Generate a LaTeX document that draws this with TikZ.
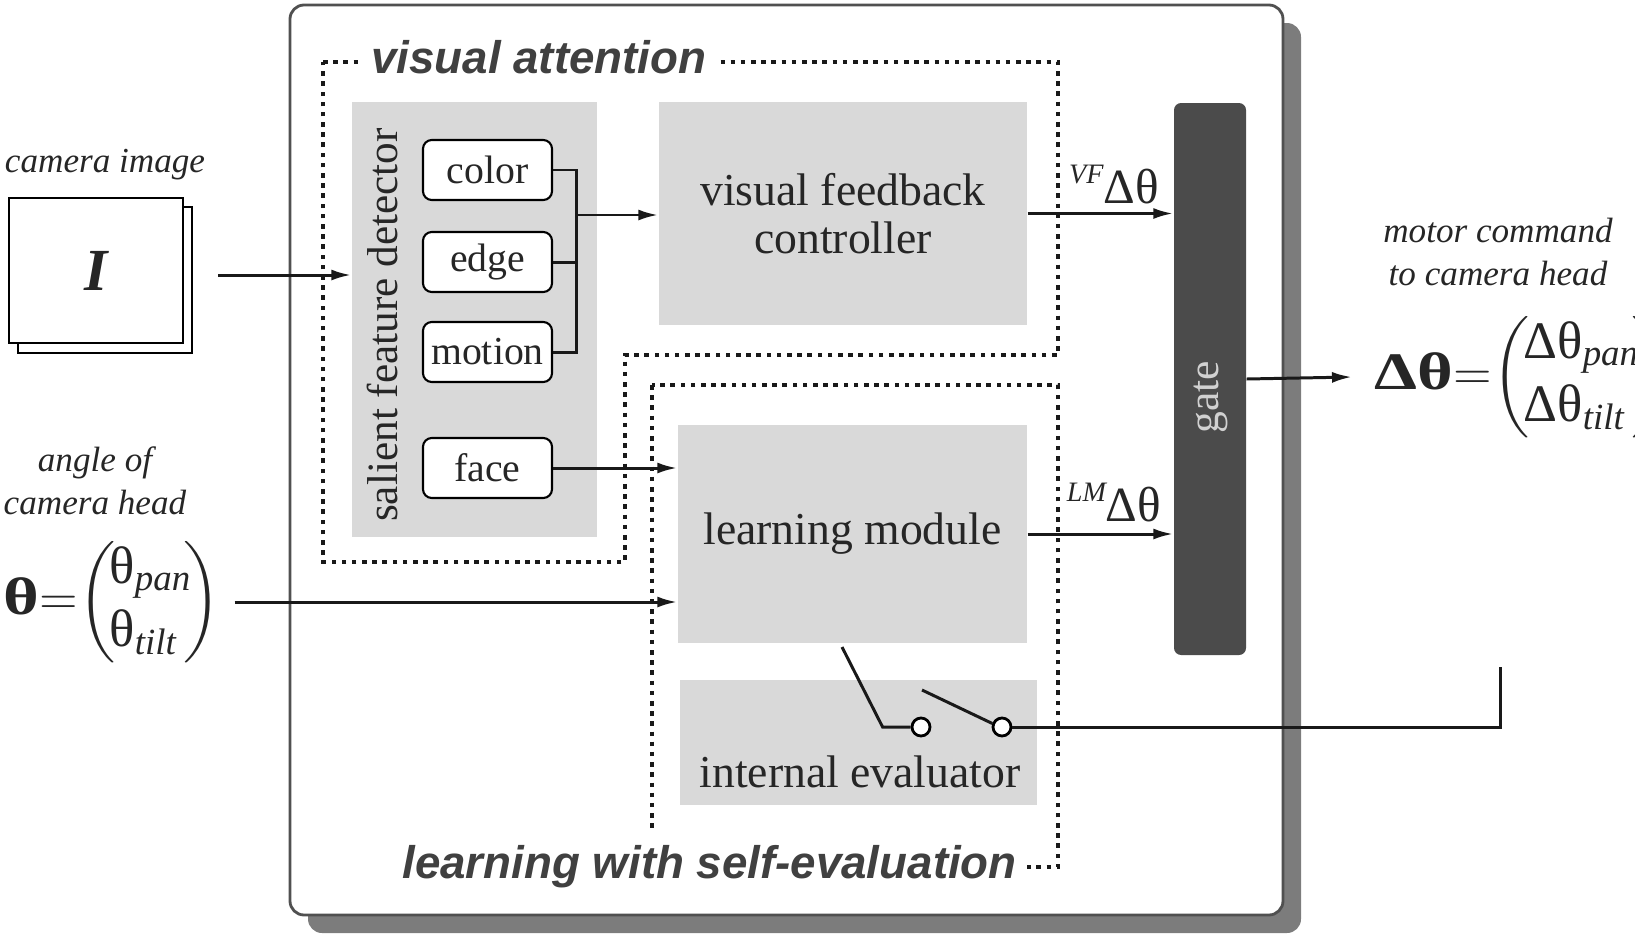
\documentclass[tikz,border=0pt]{standalone}
\usepackage{amsmath}
\usepackage{graphicx}
\usepackage{fontspec}
\setmainfont{Liberation Serif}
\newfontfamily\headfont{Liberation Sans}
\usetikzlibrary{positioning,arrows.meta}
\definecolor{boxgray}{HTML}{D9D9D9}
\definecolor{gatedark}{HTML}{4B4B4B}
\definecolor{framegray}{HTML}{505050}
\definecolor{shadowgray}{HTML}{7C7C7C}
\definecolor{inkgray}{HTML}{262626}
\newcommand{\wideb}[1]{\scalebox{1.3}[1]{\bfseries #1}}
\newcommand{\pre}[1]{\raisebox{5.5pt}{\fontsize{8}{8}\selectfont\itshape #1}}
\newcommand{\colvec}[2]{\mkern-3mu\left(\mkern-2mu\begin{array}{@{}l@{}}#1\\ #2\end{array}\mkern-3mu\right)}

\begin{document}
\begin{tikzpicture}[x=0.1mm, y=-0.1mm, every node/.style={text=inkgray},
    module/.style={fill=boxgray, inner sep=0pt, align=center, font=\fontsize{13}{13.5}\selectfont},
    feat/.style={draw=black, fill=white, rounded corners=2.5pt, line width=0.6pt,
                 minimum width=12.9mm, minimum height=6mm, inner sep=0pt, font=\fontsize{11.3}{13}\selectfont},
    region/.style={draw=black!90, line width=1.3pt, dash pattern=on 1.3pt off 1.6pt},
    regionlbl/.style={fill=white, inner xsep=3pt, text=black!75, font=\headfont\bfseries\itshape\fontsize{13}{15}\selectfont},
    note/.style={align=center, font=\itshape\fontsize{10}{12.4}\selectfont},
    arr/.style={-{Latex[length=2mm,width=1.1mm]}, line width=0.85pt, black!90},
    wire/.style={line width=0.85pt, black!90}]
  \useasboundingbox (0,0) rectangle (1635,937);

  % outer frame with its shadow
  \fill[shadowgray, rounded corners=4pt] (308,23) rectangle (1301,933);
  \draw[framegray, fill=white, line width=0.8pt, rounded corners=4pt] (290,5) rectangle (1283,915);

  % camera image
  \node[draw, fill=white, line width=0.6pt, minimum width=17.4mm, minimum height=14.6mm] (camback) at (105,280) {};
  \node[draw, fill=white, line width=0.6pt, minimum width=17.4mm, minimum height=14.5mm,
        font=\fontsize{17}{17}\selectfont\bfseries\itshape] (cam) at (96,270.5) {I};
  \node[note] (camlbl) at (105,165) {camera image};
  \node[note] (anglelbl) at (95,481) {angle of\\camera head};
  \node[note] (motorlbl) at (1498,252) {motor command\\to camera head};

  % modules
  \node[module, minimum width=24.5mm, minimum height=43.5mm] (sfd) at (474.5,319.5) {};
  \node[rotate=90, font=\fontsize{12.3}{14}\selectfont] (sfdlbl) at (382,325) {salient feature detector};
  \node[feat] (color) at (487.5,170) {color};
  \node[feat] (edge) at (487.5,262) {edge};
  \node[feat] (motion) at (487.5,352) {motion};
  \node[feat] (face) at (487.5,468) {face};
  \node[module, minimum width=36.8mm, minimum height=22.3mm] (vfc) at (843,213.5) {visual feedback\\controller};
  \node[module, minimum width=34.9mm, minimum height=21.8mm] (lm) at (852.5,534) {learning module};
  \node[module, minimum width=35.7mm, minimum height=12.5mm] (ie) at (858.5,742.5) {};
  \node[font=\fontsize{13}{13.5}\selectfont] (ielbl) at (860,772) {internal evaluator};
  \node[fill=gatedark, rounded corners=2pt, minimum width=7.2mm, minimum height=55.2mm, inner sep=0pt] (gate) at (1210,379) {};
  \node[rotate=90, text=white!82!black, font=\fontsize{12.4}{14}\selectfont] (gatelbl) at (1211,397) {gate};

  % dotted regions
  \draw[region] (323,62) -- (1058,62) -- (1058,355) -- (625,355) -- (625,562) -- (323,562) -- cycle;
  \draw[region] (652,385) rectangle (1058,867);
  \node[regionlbl, anchor=base west] (valbl) at (360,73) {visual attention};
  \node[regionlbl, anchor=base east] (lselbl) at (1028,878) {learning with self-evaluation};

  % inputs and outputs
  \node[anchor=west, inner xsep=1.3mm, inner ysep=0pt, font=\fontsize{15}{18}\selectfont] (theta) at (-10,602)
    {$\text{\wideb{θ}}{=}\colvec{\text{θ}_{\textit{pan}}}{\text{θ}_{\textit{tilt}}}$};
  \node[anchor=west, inner xsep=2.2mm, inner ysep=0pt, font=\fontsize{15}{18}\selectfont] (dtheta) at (1352,377)
    {$\text{\wideb{Δθ}}{=}\colvec{\text{Δθ}_{\textit{pan}}}{\text{Δθ}_{\textit{tilt}}}$};
  \node[anchor=base, font=\fontsize{14}{16}\selectfont] (vflbl) at (1114,203) {\pre{VF}Δθ};
  \node[anchor=base, font=\fontsize{14}{16}\selectfont] (lmlbl) at (1114,521) {\pre{LM}Δθ};

  % switch
  \node[circle, draw=black, fill=white, line width=0.8pt, minimum size=1.8mm, inner sep=0pt] (sw1) at (921,727) {};
  \node[circle, draw=black, fill=white, line width=0.8pt, minimum size=1.8mm, inner sep=0pt] (sw2) at (1002,727) {};
  \coordinate (lmtap) at (842,647);
  \coordinate (ietap) at (922,690);
  \coordinate (fb) at (1500,667);
  \coordinate (camout) at (218,275);
  \coordinate (bus) at (576,215);

  % connections
  \draw[arr] (camout) -- (sfd.west |- camout);
  \draw[wire] (color.east) -| (bus |- motion.east) -- (motion.east);
  \draw[wire] (edge.east) -- (bus |- edge.east);
  \draw[arr] (bus) -- (vfc.west |- bus);
  \draw[arr] (face.east) -- (lm.west |- face.east);
  \draw[arr] (theta.east) -- (lm.west |- theta.east);
  \draw[arr] (vfc.east) -- (gate.west |- vfc.east);
  \draw[arr] (lm.east) -- (gate.west |- lm.east);
  \draw[arr] (gate.east) -- (dtheta.west);
  \draw[wire] (lmtap) -- ([xshift=-2.8mm]sw1.west) -- (sw1.west);
  \draw[wire] (ietap) -- (sw2.160);
  \draw[wire] (sw2.east) -| (fb);
\end{tikzpicture}
\end{document}
